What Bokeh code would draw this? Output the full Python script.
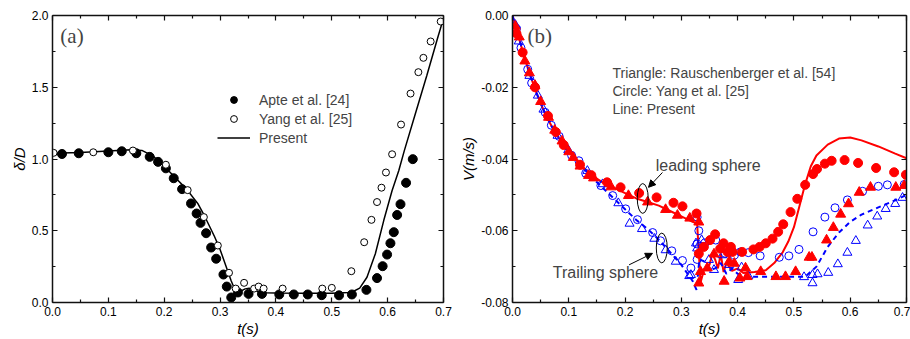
from bokeh.plotting import figure
from bokeh.layouts import row
from bokeh.models import (LinearAxis, FixedTicker, NumeralTickFormatter, Range1d,
                          Legend, LegendItem, Label, Arrow, NormalHead, CustomJSTickFormatter)
from bokeh.embed import file_html
from bokeh.resources import INLINE

# ---------------- Panel (a) data ----------------
apte_t = [0.017, 0.047, 0.100, 0.124, 0.150, 0.174, 0.189, 0.203, 0.217, 0.232, 0.248, 0.258,
          0.265, 0.275, 0.284, 0.293, 0.306, 0.312, 0.320, 0.332, 0.351, 0.375, 0.406, 0.432,
          0.457, 0.482, 0.513, 0.536, 0.562, 0.581, 0.591, 0.599, 0.605, 0.611, 0.617, 0.623,
          0.633, 0.645]
apte_d = [1.035, 1.040, 1.047, 1.054, 1.040, 1.015, 0.980, 0.935, 0.866, 0.790, 0.690, 0.620,
          0.555, 0.483, 0.383, 0.305, 0.195, 0.111, 0.035, 0.070, 0.060, 0.060, 0.056, 0.056,
          0.056, 0.051, 0.050, 0.056, 0.088, 0.170, 0.253, 0.334, 0.413, 0.490, 0.610, 0.685,
          0.834, 0.999]
yang_t = [0.002, 0.073, 0.144, 0.203, 0.242, 0.271, 0.296, 0.316, 0.328, 0.343, 0.361, 0.369,
          0.378, 0.412, 0.483, 0.500, 0.535, 0.558, 0.571, 0.581, 0.589, 0.597, 0.608, 0.624,
          0.641, 0.655, 0.664, 0.677, 0.695]
yang_d = [1.043, 1.047, 1.059, 0.960, 0.783, 0.595, 0.397, 0.207, 0.097, 0.137, 0.097, 0.111,
          0.097, 0.097, 0.097, 0.102, 0.218, 0.420, 0.576, 0.700, 0.800, 0.906, 1.033, 1.240,
          1.456, 1.605, 1.705, 1.819, 1.958]
present_a_t = [0.0, 0.05, 0.10, 0.14, 0.16, 0.18, 0.20, 0.22, 0.24, 0.26, 0.27, 0.28, 0.29,
               0.30, 0.31, 0.32, 0.327, 0.335, 0.345, 0.352, 0.36, 0.37, 0.38, 0.40, 0.45,
               0.50, 0.53, 0.54, 0.55, 0.563, 0.578, 0.593, 0.608, 0.62, 0.63, 0.65, 0.67,
               0.69, 0.70]
present_a_d = [1.040, 1.045, 1.055, 1.065, 1.060, 1.020, 0.950, 0.870, 0.790, 0.690, 0.620,
               0.540, 0.460, 0.370, 0.260, 0.150, 0.085, 0.075, 0.095, 0.100, 0.090, 0.072,
               0.068, 0.066, 0.065, 0.065, 0.070, 0.080, 0.100, 0.176, 0.340, 0.571, 0.780,
               0.920, 1.060, 1.320, 1.580, 1.850, 1.980]

# ---------------- Panel (b) data ----------------
lead_present_t = [0.0, 0.01, 0.02, 0.03, 0.04, 0.05, 0.06, 0.07, 0.08, 0.09, 0.10, 0.12, 0.14,
                  0.16, 0.18, 0.20, 0.22, 0.24, 0.26, 0.28, 0.30, 0.32, 0.328, 0.331, 0.334,
                  0.34, 0.35, 0.355, 0.36, 0.365, 0.37, 0.375, 0.38, 0.39, 0.40, 0.41, 0.43,
                  0.45, 0.465, 0.48, 0.49, 0.50, 0.51, 0.52, 0.53, 0.54, 0.56, 0.58, 0.60,
                  0.62, 0.65, 0.68, 0.70]
lead_present_v = [0.0, -0.0055, -0.011, -0.016, -0.0205, -0.0245, -0.028, -0.031, -0.0335,
                  -0.036, -0.038, -0.0415, -0.0445, -0.0465, -0.048, -0.0495, -0.051, -0.052,
                  -0.053, -0.0545, -0.056, -0.0575, -0.058, -0.066, -0.0745, -0.071, -0.0695,
                  -0.0665, -0.068, -0.0705, -0.0665, -0.0715, -0.069, -0.0712, -0.0705,
                  -0.0718, -0.0715, -0.071, -0.069, -0.066, -0.063, -0.059, -0.053, -0.047,
                  -0.042, -0.039, -0.036, -0.0343, -0.034, -0.0348, -0.0365, -0.0385, -0.0398]
trail_present_t = [0.0, 0.01, 0.02, 0.03, 0.04, 0.05, 0.06, 0.07, 0.08, 0.09, 0.10, 0.12, 0.14,
                   0.16, 0.18, 0.20, 0.22, 0.24, 0.26, 0.28, 0.30, 0.32, 0.327, 0.332, 0.34,
                   0.35, 0.36, 0.37, 0.38, 0.39, 0.40, 0.42, 0.45, 0.50, 0.52, 0.54, 0.56,
                   0.58, 0.60, 0.62, 0.65, 0.68, 0.70]
trail_present_v = [0.0, -0.0055, -0.011, -0.016, -0.0205, -0.0245, -0.028, -0.031, -0.0335,
                   -0.036, -0.038, -0.0415, -0.045, -0.048, -0.051, -0.054, -0.057, -0.0595,
                   -0.0625, -0.066, -0.0695, -0.074, -0.0765, -0.068, -0.0685, -0.071,
                   -0.0705, -0.069, -0.072, -0.0705, -0.072, -0.0728, -0.0728, -0.0728,
                   -0.0728, -0.070, -0.0645, -0.0605, -0.0575, -0.0555, -0.0535, -0.0515, -0.050]
lead_yang_t = [0.007, 0.018, 0.040, 0.063, 0.077, 0.091, 0.12, 0.14, 0.168, 0.192, 0.225, 0.256,
               0.286, 0.302, 0.327, 0.331, 0.340, 0.351, 0.360, 0.369, 0.375, 0.382, 0.388,
               0.391, 0.408, 0.428, 0.439, 0.450, 0.462, 0.472, 0.481, 0.494, 0.506, 0.520,
               0.534, 0.541, 0.555, 0.567, 0.590, 0.614, 0.646, 0.678, 0.699]
lead_yang_v = [-0.005, -0.0103, -0.020, -0.028, -0.0325, -0.0361, -0.0416, -0.0445, -0.0465,
               -0.0479, -0.0495, -0.0507, -0.0522, -0.0532, -0.0552, -0.0664, -0.0645, -0.0626,
               -0.061, -0.065, -0.0635, -0.0659, -0.0645, -0.0659, -0.0659, -0.0652, -0.0645,
               -0.0635, -0.0622, -0.0603, -0.0582, -0.0548, -0.0511, -0.0472, -0.0442,
               -0.0428, -0.0413, -0.0405, -0.0403, -0.0411, -0.0425, -0.0437, -0.0444]
lead_rau_t = [0.005, 0.012, 0.022, 0.030, 0.040, 0.050, 0.064, 0.075, 0.088, 0.100, 0.108, 0.120,
              0.135, 0.144, 0.175, 0.206, 0.240, 0.272, 0.293, 0.315, 0.331, 0.331, 0.334,
              0.346, 0.358, 0.376, 0.385, 0.394, 0.404, 0.414, 0.417, 0.441, 0.468, 0.485,
              0.503, 0.527, 0.532, 0.558, 0.570, 0.583, 0.597, 0.616, 0.636, 0.681, 0.696]
lead_rau_v = [-0.003, -0.006, -0.0127, -0.016, -0.0195, -0.024, -0.0284, -0.032, -0.035, -0.038,
              -0.0396, -0.042, -0.0446, -0.0453, -0.0478, -0.0502, -0.052, -0.0541, -0.0557,
              -0.0565, -0.0576, -0.0746, -0.0714, -0.0704, -0.0665, -0.0741, -0.0686,
              -0.0691, -0.0732, -0.0704, -0.0728, -0.0714, -0.0728, -0.0728, -0.0714,
              -0.0674, -0.0674, -0.0626, -0.0591, -0.0554, -0.0525, -0.0493, -0.0479,
              -0.0479, -0.0474]
trail_yang_t = [0.007, 0.015, 0.027, 0.034, 0.058, 0.069, 0.083, 0.105, 0.118, 0.130, 0.157,
                0.178, 0.201, 0.222, 0.249, 0.263, 0.283, 0.302, 0.317, 0.328, 0.331, 0.328,
                0.328, 0.342, 0.361, 0.378, 0.394, 0.405, 0.419, 0.440, 0.474, 0.491, 0.509,
                0.534, 0.555, 0.573, 0.595, 0.622, 0.650, 0.666, 0.696]
trail_yang_v = [-0.0037, -0.009, -0.015, -0.0188, -0.027, -0.0306, -0.0337, -0.039, -0.0405,
                -0.044, -0.0474, -0.0502, -0.0539, -0.0569, -0.0605, -0.0628, -0.0656, -0.0683,
                -0.0704, -0.0562, -0.060, -0.0637, -0.068, -0.0634, -0.0626, -0.0663, -0.0668,
                -0.0659, -0.0661, -0.067, -0.0674, -0.067, -0.0652, -0.0603, -0.0562, -0.0536,
                -0.0514, -0.049, -0.0476, -0.0472, -0.0471]
trail_rau_t = [0.005, 0.011, 0.030, 0.045, 0.055, 0.080, 0.099, 0.133, 0.160, 0.188, 0.208, 0.230,
               0.252, 0.272, 0.290, 0.314, 0.317, 0.326, 0.328, 0.336, 0.349, 0.358, 0.373,
               0.385, 0.401, 0.407, 0.419, 0.518, 0.533, 0.533, 0.542, 0.561, 0.578, 0.595,
               0.610, 0.631, 0.648, 0.663, 0.680, 0.693]
trail_rau_v = [-0.0026, -0.0072, -0.0168, -0.0223, -0.0262, -0.0335, -0.0375, -0.0433, -0.047,
               -0.0523, -0.058, -0.0595, -0.0622, -0.0654, -0.0686, -0.0726, -0.0723, -0.0635,
               -0.0649, -0.0626, -0.0681, -0.0709, -0.0668, -0.0695, -0.0737, -0.0702,
               -0.0726, -0.0729, -0.0723, -0.0746, -0.0721, -0.0717, -0.0693, -0.0661,
               -0.0628, -0.0585, -0.056, -0.0539, -0.0525, -0.0508]

# ticks
x_ticks = [0.0, 0.1, 0.2, 0.3, 0.4, 0.5, 0.6, 0.7]
x_minor = [0.05, 0.15, 0.25, 0.35, 0.45, 0.55, 0.65]
ya_ticks = [0.0, 0.5, 1.0, 1.5, 2.0]
ya_minor = [0.25, 0.75, 1.25, 1.75]
yb_ticks = [-0.08, -0.06, -0.04, -0.02, 0.0]
yb_minor = [-0.07, -0.05, -0.03, -0.01]

FONT = "Liberation Sans"


def style_axis(ax, ticks, minor, fmt, labels=True):
    ax.ticker = FixedTicker(ticks=ticks, minor_ticks=minor)
    ax.major_tick_in = 5
    ax.major_tick_out = 0
    ax.minor_tick_in = 3
    ax.minor_tick_out = 0
    ax.axis_line_width = 1.5
    ax.major_tick_line_width = 1.2
    ax.minor_tick_line_width = 1.2
    ax.axis_line_color = "#111111"
    ax.major_tick_line_color = "#111111"
    ax.minor_tick_line_color = "#111111"
    if labels:
        ax.formatter = NumeralTickFormatter(format=fmt)
        ax.major_label_text_font = FONT
        ax.major_label_text_font_size = "12px"
        ax.major_label_text_color = "black"
        ax.major_label_standoff = 4
        ax.axis_label_text_font = FONT
        ax.axis_label_text_font_size = "15px"
        ax.axis_label_text_font_style = "italic"
        ax.axis_label_text_color = "black"
        ax.axis_label_standoff = 1
    else:
        ax.formatter = CustomJSTickFormatter(code="return '';")
        ax.major_label_text_font_size = "0px"
        ax.major_label_standoff = 0


def make_fig(width, yrange, border_left, border_right, border_top, xlabel, ylabel,
             yt, ym, yfmt):
    p = figure(width=width, height=339, output_backend="svg", toolbar_location=None,
               x_range=Range1d(0, 0.7), y_range=yrange,
               min_border_left=border_left, min_border_right=border_right,
               min_border_top=border_top, min_border_bottom=36)
    p.grid.visible = False
    p.outline_line_color = None
    p.background_fill_color = "white"
    p.border_fill_color = "white"
    style_axis(p.xaxis[0], x_ticks, x_minor, "0.0")
    style_axis(p.yaxis[0], yt, ym, yfmt)
    p.xaxis[0].axis_label = xlabel
    p.yaxis[0].axis_label = ylabel
    top = LinearAxis()
    style_axis(top, x_ticks, x_minor, "0.0", labels=False)
    right = LinearAxis()
    style_axis(right, yt, ym, yfmt, labels=False)
    p.add_layout(top, "above")
    p.add_layout(right, "right")
    return p


# ---------------- Panel (a) ----------------
pa = make_fig(452, Range1d(0, 2.0), 52, 9, 15, "t(s)", "δ/D", ya_ticks, ya_minor, "0.0")
r_line = pa.line(present_a_t, present_a_d, line_color="black", line_width=1.5)
r_apte = pa.scatter(apte_t, apte_d, marker="circle", size=9, fill_color="black",
                    line_color="black")
r_yang = pa.scatter(yang_t, yang_d, marker="circle", size=7, fill_color="white",
                    line_color="black", line_width=1)
leg = Legend(items=[LegendItem(label="Apte et al. [24]", renderers=[r_apte]),
                    LegendItem(label="Yang et al. [25]", renderers=[r_yang]),
                    LegendItem(label="Present", renderers=[r_line])],
             location=(165, 156), border_line_color=None, background_fill_alpha=0,
             label_text_font=FONT, label_text_font_size="14px", glyph_width=33,
             glyph_height=17, label_height=17, spacing=2, padding=0, margin=0,
             label_standoff=9)
pa.add_layout(leg)
pa.add_layout(Label(x=0.014, y=1.855, text="(a)", text_font="Liberation Serif",
                    text_font_size="21px", text_baseline="middle"))

# ---------------- Panel (b) ----------------
pb = make_fig(458, Range1d(-0.08, 0.0), 60, 4, 13, "t(s)", "V(m/s)", yb_ticks, yb_minor, "0.00")
RED = "#ff0000"
BLUE = "#0000ff"
pb.line(lead_present_t, lead_present_v, line_color=RED, line_width=2)
pb.line(trail_present_t, trail_present_v, line_color=BLUE, line_width=2, line_dash="5 4")
pb.scatter(trail_rau_t, trail_rau_v, marker="triangle", size=9, fill_color="white",
           fill_alpha=0, line_color=BLUE, line_width=1)
pb.scatter(trail_yang_t, trail_yang_v, marker="circle", size=8, fill_color="white",
           fill_alpha=0, line_color=BLUE, line_width=1)
pb.scatter(lead_yang_t, lead_yang_v, marker="circle", size=9, fill_color=RED, line_color=RED)
pb.scatter(lead_rau_t, lead_rau_v, marker="triangle", size=10, fill_color=RED, line_color=RED)

pb.add_layout(Label(x=0.0266, y=-0.0057, text="(b)", text_font="Liberation Serif",
                    text_font_size="21px", text_baseline="middle"))
for txt, yy in [("Triangle: Rauschenberger et al. [54]", -0.0159),
                ("Circle:  Yang et al. [25]", -0.0210),
                ("Line: Present", -0.0260)]:
    pb.add_layout(Label(x=0.1776, y=yy, text=txt, text_font=FONT, text_font_size="14px",
                        text_baseline="middle"))
pb.add_layout(Label(x=0.2545, y=-0.0419, text="leading sphere", text_font=FONT,
                    text_font_size="16px", text_baseline="middle"))
pb.add_layout(Label(x=0.0716, y=-0.0715, text="Trailing sphere", text_font=FONT,
                    text_font_size="16px", text_baseline="middle"))
pb.ellipse(x=[0.2314, 0.2652], y=[-0.0510, -0.0648], width=0.0195, height=0.0083,
           fill_color=None, line_color="black", line_width=1)
pb.add_layout(Arrow(end=NormalHead(size=7, fill_color="black", line_color="black"),
                    x_start=0.2664, y_start=-0.04376, x_end=0.2416, y_end=-0.0479,
                    line_color="black", line_width=1))
pb.add_layout(Arrow(end=NormalHead(size=7, fill_color="black", line_color="black"),
                    x_start=0.2071, y_start=-0.0695, x_end=0.2487, y_end=-0.0663,
                    line_color="black", line_width=1))

layout = row(pa, pb)
open("out.html", "w").write(file_html(layout, INLINE))
